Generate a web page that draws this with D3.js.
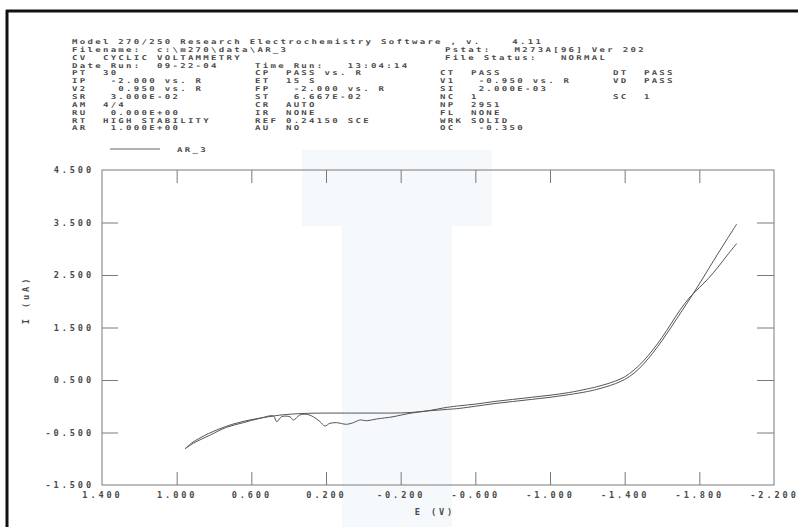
<!DOCTYPE html>
<html><head><meta charset="utf-8">
<script src="https://cdn.jsdelivr.net/npm/d3@7"></script>
<style>
html,body{margin:0;padding:0;background:#fff;}
svg{display:block;}
text{font-family:"DejaVu Sans Mono",monospace;fill:#4a4a4a;}
</style></head>
<body>
<svg id="c" width="798" height="527"></svg>
<script>
// ---- data ----
const xTickValues = [1.4, 1.0, 0.6, 0.2, -0.2, -0.6, -1.0, -1.4, -1.8, -2.2];
const yTickValues = [4.5, 3.5, 2.5, 1.5, 0.5, -0.5, -1.5];
const seriesName = "AR_3";
const xLabel = "E (V)";
const yLabel = "I (uA)";
// forward scan
const E_fwd = [0.955,0.92,0.875,0.83,0.784,0.74,0.698,0.65,0.607,0.56,0.516,0.45,0.377,0.3,0.195,0.1,0.018,-0.08,-0.159,-0.25,-0.34,-0.45,-0.517,-0.6,-0.7,-0.8,-0.9,-1.0,-1.1,-1.2,-1.25,-1.3,-1.35,-1.4,-1.45,-1.5,-1.55,-1.6,-1.65,-1.7,-1.75,-1.8,-1.85,-1.9,-1.95,-2.0];
const I_fwd = [-0.81,-0.70,-0.605,-0.52,-0.45,-0.39,-0.34,-0.295,-0.26,-0.23,-0.205,-0.17,-0.148,-0.135,-0.13,-0.13,-0.13,-0.13,-0.13,-0.12,-0.09,-0.06,-0.04,0.0,0.05,0.09,0.13,0.17,0.22,0.28,0.32,0.37,0.43,0.51,0.63,0.80,1.01,1.25,1.51,1.78,2.05,2.33,2.62,2.91,3.19,3.47];
// reverse scan
const E_rev = [-2.0,-1.95,-1.9,-1.85,-1.8,-1.75,-1.7,-1.65,-1.6,-1.55,-1.5,-1.45,-1.4,-1.35,-1.3,-1.25,-1.2,-1.1,-1.0,-0.9,-0.8,-0.7,-0.6,-0.517,-0.45,-0.34,-0.25,-0.159,-0.071,-0.018,0.018,0.054,0.09,0.143,0.179,0.206,0.232,0.268,0.304,0.34,0.375,0.393,0.438,0.464,0.482,0.554,0.643,0.732,0.82,0.911,0.955];
const I_rev = [3.10,2.88,2.65,2.44,2.26,2.08,1.85,1.58,1.31,1.07,0.86,0.69,0.56,0.48,0.42,0.37,0.33,0.26,0.21,0.17,0.13,0.09,0.04,0.01,-0.02,-0.09,-0.134,-0.2,-0.243,-0.276,-0.262,-0.313,-0.344,-0.313,-0.325,-0.376,-0.294,-0.2,-0.154,-0.167,-0.262,-0.2,-0.2,-0.294,-0.186,-0.23,-0.313,-0.4,-0.548,-0.706,-0.81];
// header text, rows of [column, text]
const headerRows = [
  [[0,"Model 270/250 Research Electrochemistry Software , v.    4.11"]],
  [[0,"Filename:  c:\\m270\\data\\AR_3"],[4,"Pstat:   M273A[96] Ver 202"]],
  [[0,"CV  CYCLIC VOLTAMMETRY"],[4,"File Status:   NORMAL"]],
  [[0,"Date Run:  09-22-04"],[1,"Time Run:   13:04:14"]],
  [[0,"PT  30"],[1,"CP  PASS vs. R"],[2,"CT  PASS"],[3,"DT  PASS"]],
  [[0,"IP   -2.000 vs. R"],[1,"ET  15 S"],[2,"V1   -0.950 vs. R"],[3,"VD  PASS"]],
  [[0,"V2    0.950 vs. R"],[1,"FP   -2.000 vs. R"],[2,"SI   2.000E-03"]],
  [[0,"SR   3.000E-02"],[1,"ST   6.667E-02"],[2,"NC  1"],[3,"SC  1"]],
  [[0,"AM  4/4"],[1,"CR  AUTO"],[2,"NP  2951"]],
  [[0,"RU   0.000E+00"],[1,"IR  NONE"],[2,"FL  NONE"]],
  [[0,"RT  HIGH STABILITY"],[1,"REF 0.24150 SCE"],[2,"WRK SOLID"]],
  [[0,"AR   1.000E+00"],[1,"AU  NO"],[2,"OC   -0.350"]]
];

// ---- drawing ----
const svg = d3.select("#c");
const W = 798, H = 527;
svg.append("rect").attr("width",W).attr("height",H).attr("fill","#fff");

// faint scan stripe
svg.append("rect").attr("x",302).attr("y",150).attr("width",190).attr("height",76).attr("fill","#f6f9fc");
svg.append("rect").attr("x",342).attr("y",226).attr("width",110).attr("height",301).attr("fill","#f6f9fc");

// page border (top and left)
svg.append("line").attr("x1",6).attr("x2",W).attr("y1",11).attr("y2",11).attr("stroke","#111").attr("stroke-width",3);
svg.append("line").attr("x1",7).attr("x2",7).attr("y1",10).attr("y2",H).attr("stroke","#111").attr("stroke-width",3);

// header text helper: wide, short plotter-like glyphs
const HFS = 6.7, HSX = 1.35, HLS = 1.7;
function plotText(xp, yp, t){
  return svg.append("text")
    .attr("transform", `translate(${xp},${yp}) scale(${HSX},1)`)
    .attr("xml:space","preserve").style("white-space","pre")
    .attr("font-size",HFS).attr("font-weight","bold").attr("letter-spacing",HLS)
    .attr("fill","#555").text(t);
}

const colX = [72, 255, 440, 613, 445];
const rowY0 = 44, rowStep = 7.85;
headerRows.forEach((row, i) => {
  row.forEach(([c, t]) => plotText(colX[c], rowY0 + i*rowStep, t));
});

// legend
svg.append("line").attr("x1",110).attr("x2",160).attr("y1",149).attr("y2",149).attr("stroke","#666").attr("stroke-width",1);
plotText(177, 152, seriesName);

// scales
const x = d3.scaleLinear().domain([1.4, -2.2]).range([102, 774]);
const y = d3.scaleLinear().domain([-1.5, 4.5]).range([485, 170]);
const fmt = d => d.toFixed(3);
const innerX = xTickValues.slice(1, -1);
const innerY = yTickValues.slice(1, -1);
const axisColor = "#7a7a7a";

function styleAxis(g){
  g.select(".domain").remove();
  g.selectAll("line").attr("stroke", axisColor).attr("stroke-width",1);
  g.selectAll("text").attr("font-family","DejaVu Sans Mono").attr("font-size",8.6)
   .attr("font-weight","bold").attr("letter-spacing",2.9).attr("fill","#555");
}

// bottom labels
svg.append("g").attr("transform","translate(0,485)")
  .call(d3.axisBottom(x).tickValues(xTickValues).tickFormat(fmt).tickSize(0).tickPadding(7))
  .call(styleAxis);
// bottom inner ticks
svg.append("g").attr("transform","translate(0,485)")
  .call(d3.axisBottom(x).tickValues(innerX).tickFormat("").tickSize(-13))
  .call(styleAxis);
// top inner ticks
svg.append("g").attr("transform","translate(0,170)")
  .call(d3.axisTop(x).tickValues(innerX).tickFormat("").tickSize(-13))
  .call(styleAxis);
// left labels
svg.append("g").attr("transform","translate(102,0)")
  .call(d3.axisLeft(y).tickValues(yTickValues).tickFormat(fmt).tickSize(0).tickPadding(8))
  .call(styleAxis);
// left inner ticks
svg.append("g").attr("transform","translate(102,0)")
  .call(d3.axisLeft(y).tickValues(innerY).tickFormat("").tickSize(-16))
  .call(styleAxis);
// right inner ticks
svg.append("g").attr("transform","translate(774,0)")
  .call(d3.axisRight(y).tickValues(innerY).tickFormat("").tickSize(-17))
  .call(styleAxis);

// frame
svg.append("rect").attr("x",102).attr("y",170).attr("width",672).attr("height",315)
  .attr("fill","none").attr("stroke",axisColor).attr("stroke-width",1);

// axis titles
svg.append("text").attr("x",435).attr("y",515).attr("text-anchor","middle")
  .attr("font-size",8.6).attr("font-weight","bold").attr("letter-spacing",2.9).attr("fill","#555").text(xLabel);
svg.append("text").attr("transform","translate(29,300) rotate(-90)").attr("text-anchor","middle")
  .attr("font-size",8.6).attr("font-weight","bold").attr("letter-spacing",2.9).attr("fill","#555").text(yLabel);

// curves
const line = d3.line().x(d => x(d[0])).y(d => y(d[1])).curve(d3.curveCatmullRom.alpha(0.5));
const fwd = E_fwd.map((e,i) => [e, I_fwd[i]]);
const rev = E_rev.map((e,i) => [e, I_rev[i]]);
[fwd, rev].forEach(s => {
  svg.append("path").datum(s).attr("d", line).attr("fill","none")
    .attr("stroke","#555").attr("stroke-width",1);
});
</script>
</body></html>
